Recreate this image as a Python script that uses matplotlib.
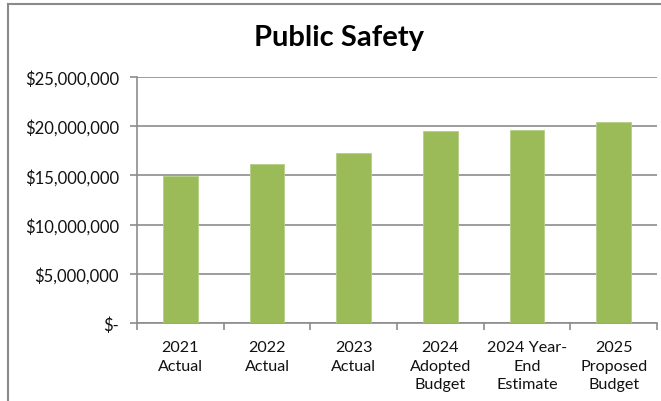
import matplotlib
matplotlib.use("Agg")
import matplotlib.pyplot as plt
from matplotlib.lines import Line2D
from matplotlib.ticker import FuncFormatter, FixedLocator
import numpy as np

categories = ["2021\nActual", "2022\nActual", "2023\nActual",
              "2024\nAdopted\nBudget", "2024 Year-\nEnd\nEstimate",
              "2025\nProposed\nBudget"]
spending = [14_900_000, 16_130_000, 17_290_000, 19_490_000, 19_590_000, 20_410_000]
y_ticks = [0, 5_000_000, 10_000_000, 15_000_000, 20_000_000, 25_000_000]

plt.rcParams["font.family"] = ["Lato", "DejaVu Sans"]

W, H = 661, 402
fig = plt.figure(figsize=(W / 100, H / 100), dpi=100)
fig.patch.set_facecolor("white")

ax = fig.add_axes([137 / W, (H - 324.3) / H, (657 - 137) / W, (324.3 - 77.6) / H])

x = np.arange(len(categories))
ax.bar(x, spending, width=0.40, color="#9BBB59", edgecolor="#B4CE84",
       linewidth=0.6, zorder=3)

ax.set_xlim(-0.5, len(categories) - 0.5)
ax.set_ylim(0, 25_000_000)

def money(v, pos):
    if v == 0:
        return "$-"
    return "${:,.0f}".format(v)

ax.yaxis.set_major_locator(FixedLocator(y_ticks))
ax.yaxis.set_major_formatter(FuncFormatter(money))
ax.grid(axis="y", color="#8C8C8C", linewidth=1.2, zorder=0)

ax.set_xticks(x)
ax.set_xticklabels(categories, fontsize=11.6, color="#111111", linespacing=1.42)
ax.set_xticks(np.arange(len(categories) + 1) - 0.5, minor=True)
ax.tick_params(axis="x", which="major", length=0, pad=12)
ax.tick_params(axis="x", which="minor", length=5, color="#8C8C8C", width=1.2)
ax.tick_params(axis="y", length=5, color="#8C8C8C", width=1.2, pad=8,
               labelsize=12, labelcolor="#111111")

for side in ["top", "right"]:
    ax.spines[side].set_visible(False)
for side in ["left", "bottom"]:
    ax.spines[side].set_color("#8C8C8C")
    ax.spines[side].set_linewidth(1.2)

fig.text(339 / W, 1 - 38 / H, "Public Safety", ha="center", va="center",
         fontsize=21, fontweight="bold", color="black")

# outer chart frame (left and top edges)
fig.add_artist(Line2D([8 / W, 8 / W], [0, 1 - 4.5 / H], transform=fig.transFigure,
                      color="#8A8A8A", linewidth=1.5))
fig.add_artist(Line2D([8 / W, 1], [1 - 4.5 / H, 1 - 4.5 / H], transform=fig.transFigure,
                      color="#8A8A8A", linewidth=1.5))

fig.savefig("out.png", dpi=100)
